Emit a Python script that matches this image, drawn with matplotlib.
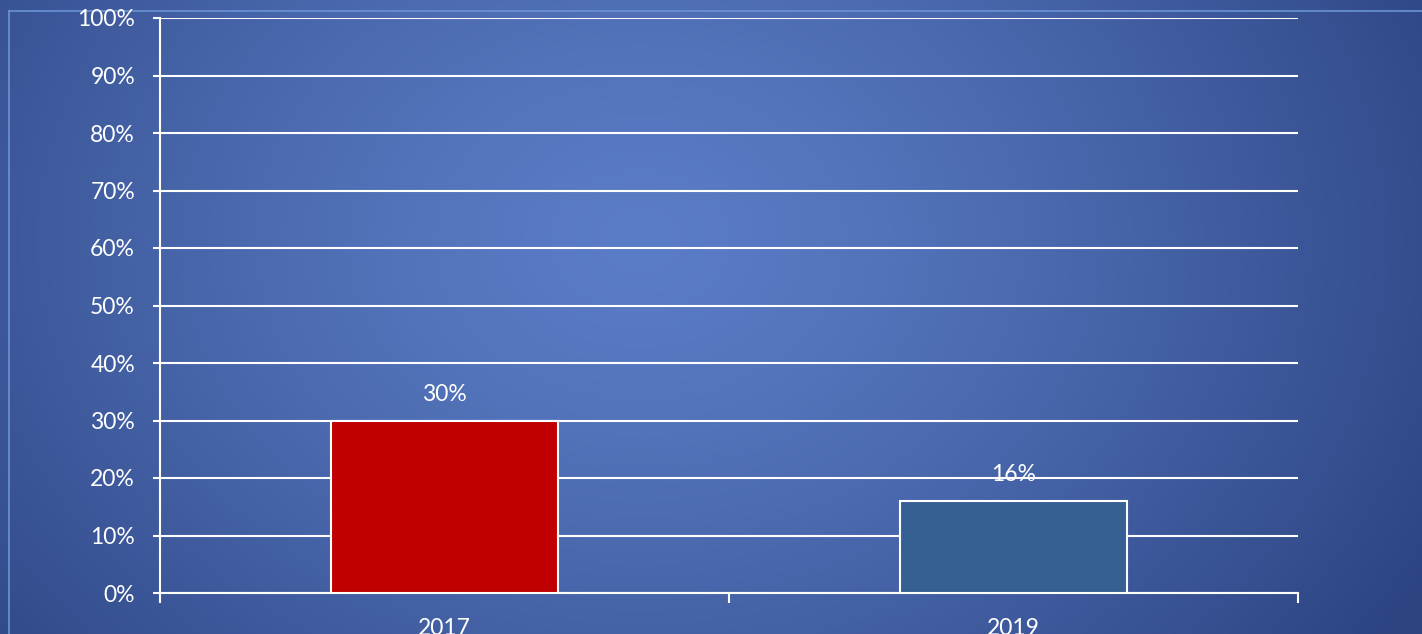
import numpy as np
import matplotlib
matplotlib.use("Agg")
import matplotlib.pyplot as plt

# data
years = ["2017", "2019"]
shares = [30, 16]
bar_colors = ["#c00000", "#376092"]
y_ticks = [0, 10, 20, 30, 40, 50, 60, 70, 80, 90, 100]

plt.rcParams["font.family"] = ["Lato", "DejaVu Sans"]

fig = plt.figure(figsize=(14.22, 6.34), dpi=100)

# radial gradient background
bg = fig.add_axes([0, 0, 1, 1], zorder=-10)
yy, xx = np.mgrid[0:634, 0:1422]
d = np.sqrt(((xx - 640) / 900.0) ** 2 + ((yy - 240) / 700.0) ** 2)
d = np.clip(d, 0, 1)
c_in = np.array([0x5b, 0x7d, 0xc6]) / 255.0
c_out = np.array([0x2c, 0x44, 0x82]) / 255.0
img = c_in[None, None, :] * (1 - d[..., None] ** 1.3) + c_out[None, None, :] * d[..., None] ** 1.3
bg.imshow(img, aspect="auto", extent=[0, 1, 0, 1], origin="upper")
bg.plot([9 / 1422, 1], [1 - 11 / 634, 1 - 11 / 634], color="#6a93d4", lw=1.2)
bg.plot([9 / 1422, 9 / 1422], [0, 1 - 11 / 634], color="#6a93d4", lw=1.2)
bg.set_xlim(0, 1)
bg.set_ylim(0, 1)
bg.axis("off")

ax = fig.add_axes([160 / 1422, 1 - 593 / 634, (1298 - 160) / 1422, (593 - 18) / 634])
ax.patch.set_alpha(0)

x = np.arange(len(years))
bars = ax.bar(x, shares, width=0.4, color=bar_colors, edgecolor="white", linewidth=1.5, zorder=3)
for b, v in zip(bars, shares):
    ax.annotate(f"{v}%", (b.get_x() + b.get_width() / 2, v), xytext=(0, 19),
                textcoords="offset points", ha="center", va="center",
                color="white", fontsize=16.5, zorder=4)

ax.set_xlim(-0.5, 1.5)
ax.set_ylim(0, 100)
ax.set_yticks(y_ticks)
ax.set_yticklabels([f"{t}%" for t in y_ticks])
ax.set_xticks(x)
ax.set_xticklabels(years)
ax.set_xticks([-0.5, 0.5, 1.5], minor=True)

ax.grid(axis="y", color="white", linewidth=1.5, zorder=1)
ax.tick_params(axis="y", which="major", length=5, width=1.5, color="white",
               labelcolor="white", labelsize=16.5, pad=13)
ax.tick_params(axis="x", which="major", length=0, labelcolor="white", labelsize=16.5, pad=18)
ax.tick_params(axis="x", which="minor", length=7, width=1.5, color="white")

for s in ["top", "right"]:
    ax.spines[s].set_visible(False)
ax.spines["left"].set_color("white")
ax.spines["left"].set_linewidth(1.5)
ax.spines["bottom"].set_color("white")
ax.spines["bottom"].set_linewidth(1.5)

fig.savefig("out.png", dpi=100)
